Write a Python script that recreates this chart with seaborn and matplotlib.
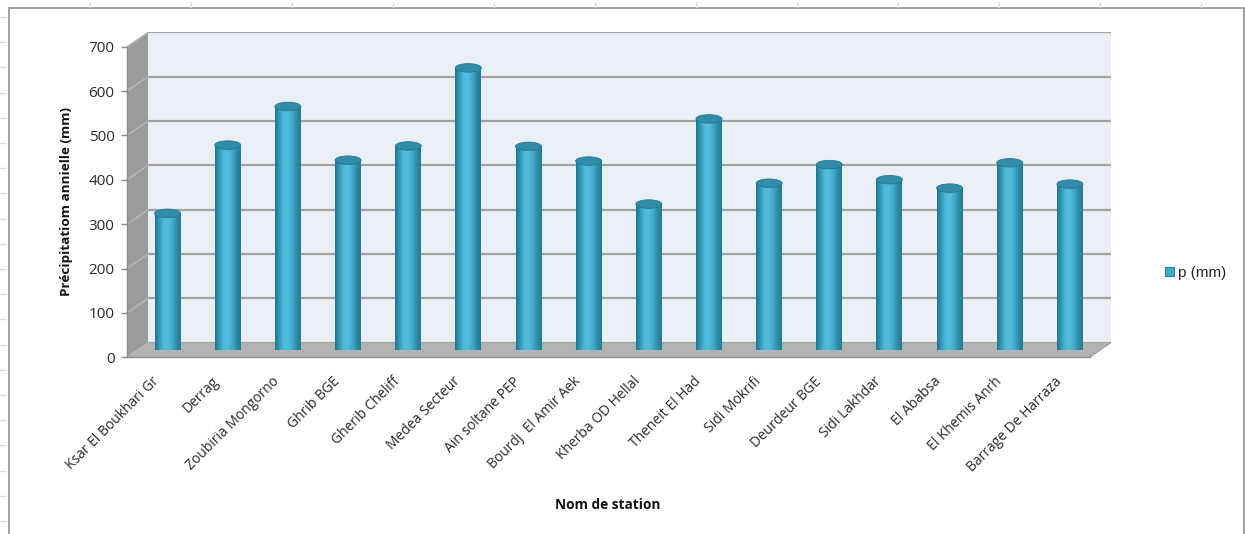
import numpy as np
import pandas as pd
import matplotlib
matplotlib.use("Agg")
import matplotlib.pyplot as plt
from matplotlib.patches import Polygon, Ellipse, Patch
from matplotlib.colors import LinearSegmentedColormap
from matplotlib.lines import Line2D
import seaborn as sns

# Annual precipitation per station (mm)
stations = [
    "Ksar El Boukhari Gr", "Derrag", "Zoubiria Mongorno", "Ghrib BGE",
    "Gherib Cheliff", "Medea Secteur", "Ain soltane PEP", "Bourdj  El Amir Aek",
    "Kherba OD Hellal", "Theneit El Had", "Sidi Mokrifi", "Deurdeur BGE",
    "Sidi Lakhdar", "El Ababsa", "El Khemis Anrh", "Barrage De Harraza",
]
precip = [308, 462, 549, 428, 460, 636, 459, 426, 329, 521, 376, 418, 384, 365, 422, 374]
y_ticks = [0, 100, 200, 300, 400, 500, 600, 700]
series_name = "p (mm)"
y_title = "Précipitatiom annielle (mm)"
x_title = "Nom de station"

df = pd.DataFrame({"station": stations, "p": precip})

sns.set_theme(style="white")
plt.rcParams["font.family"] = ["Open Sans", "DejaVu Sans"]

W, H = 1245, 534
fig = plt.figure(figsize=(W / 100, H / 100), dpi=100)
fig.patch.set_facecolor("white")


def rect(left, top, right, bottom):
    return [left / W, 1 - bottom / H, (right - left) / W, (bottom - top) / H]


# depth offset of the 3D box (pixels): back plane up-right, front plane down-left
DX_PX, DY_PX = 10.5, 7.25
mid_box = (137.5, 39.5, 1100.0, 350.0)
back_box = (mid_box[0] + DX_PX, mid_box[1] - DY_PX, mid_box[2] + DX_PX, mid_box[3] - DY_PX)
front_box = (mid_box[0] - DX_PX, mid_box[1] + DY_PX, mid_box[2] - DX_PX, mid_box[3] + DY_PX)

n = len(stations)
xlim = (-0.5, n - 0.5)
ylim = (0, 700)

# back wall with horizontal gridlines
back = fig.add_axes(rect(*back_box))
back.set_xlim(*xlim)
back.set_ylim(*ylim)
back.set_facecolor("#e9eff5")
back.set_yticks(y_ticks)
back.set_xticks([])
back.grid(axis="y", color="#a3a3a3", linewidth=1.6)
back.tick_params(left=False, labelleft=False, bottom=False, labelbottom=False)
for s in back.spines.values():
    s.set_visible(False)

# middle plane: floor, side wall and the cylinders
mid = fig.add_axes(rect(*mid_box))
mid.set_facecolor("none")
px_per_cat = (mid_box[2] - mid_box[0]) / n
px_per_unit = (mid_box[3] - mid_box[1]) / (ylim[1] - ylim[0])
dx = DX_PX / px_per_cat
dy = DY_PX / px_per_unit

bar_w = 26 / px_per_cat
cap_h = 8.5 / px_per_unit
sns.barplot(data=df, x="station", y="p", ax=mid, color="#3fa9c9", width=bar_w,
            saturation=1, edgecolor="none", zorder=2)
bars = list(mid.containers[0])

floor = Polygon([(xlim[0] - dx, -dy), (xlim[1] - dx, -dy), (xlim[1] + dx, dy), (xlim[0] + dx, dy)],
                closed=True, facecolor="#b2b2b2", edgecolor="none", zorder=0.5, clip_on=False)
mid.add_patch(floor)
mid.add_line(Line2D([xlim[1] - dx, xlim[1] + dx], [-dy, dy], color="#a0a0a0", lw=1, zorder=0.6, clip_on=False))
side = Polygon([(xlim[0] - dx, -dy), (xlim[0] - dx, ylim[1] - dy), (xlim[0] + dx, ylim[1] + dy), (xlim[0] + dx, dy)],
               closed=True, facecolor="#9b9b9b", edgecolor="none", zorder=0.5, clip_on=False)
mid.add_patch(side)
for v in y_ticks:
    mid.add_line(Line2D([xlim[0] - dx, xlim[0] + dx], [v - dy, v + dy], color="#b8b8b8",
                        lw=1.0, zorder=0.7, clip_on=False))

cyl = LinearSegmentedColormap.from_list(
    "cyl", ["#22728a", "#3299b6", "#4fbad8", "#52bddb", "#42aacb", "#2f8ca8", "#267891"])
grad = np.linspace(0, 1, 256)[None, :]
for bar in bars:
    x0 = bar.get_x()
    x1 = x0 + bar.get_width()
    v = bar.get_height()
    xc = x0 + bar.get_width() / 2
    body = mid.imshow(grad, cmap=cyl, extent=[x0, x1, 0, v], aspect="auto",
                      zorder=2.1, interpolation="bicubic")
    body.set_clip_path(bar)
    bottom = Ellipse((xc, 0), bar.get_width(), cap_h, facecolor="#3fa9c9", edgecolor="none", zorder=1.9)
    mid.add_patch(bottom)
    bimg = mid.imshow(grad, cmap=cyl, extent=[x0, x1, -cap_h, cap_h], aspect="auto",
                      zorder=2.0, interpolation="bicubic")
    bimg.set_clip_path(bottom)
    mid.add_patch(Ellipse((xc, v), bar.get_width(), cap_h, facecolor="#308ca8",
                          edgecolor="#26778f", lw=0.6, zorder=3))

mid.set_xlim(*xlim)
mid.set_ylim(*ylim)
mid.set_axis_off()

# front plane: value axis, floor edge and station labels
front = fig.add_axes(rect(*front_box))
front.set_facecolor("none")
front.set_xlim(*xlim)
front.set_ylim(*ylim)
front.set_yticks(y_ticks)
front.set_xticks(range(n))
front.set_xticklabels(stations, rotation=45, ha="right", va="center", rotation_mode="anchor",
                      fontsize=10, color="#2a2a2a")
front.tick_params(axis="x", length=0, pad=16)
front.tick_params(axis="y", length=4, width=1, color="#8c8c8c", pad=5, labelsize=11,
                  labelcolor="#2a2a2a", left=True)
for key in ("top", "right"):
    front.spines[key].set_visible(False)
for key in ("left", "bottom"):
    front.spines[key].set_color("#8c8c8c")
    front.spines[key].set_linewidth(1.0)
front.set_ylabel(y_title, fontsize=9.7, fontweight="bold", color="#111111")
front.yaxis.set_label_coords((73 - front_box[0]) / (front_box[2] - front_box[0]), 0.5)
front.set_xlabel("")

fig.text(608 / W, 1 - 505 / H, x_title, ha="center", va="center",
         fontsize=9.8, fontweight="bold", color="#111111")

handle = Patch(facecolor="#3fa9c9", edgecolor="#2a7f99", linewidth=0.8)
fig.legend([handle], [series_name], loc="center left",
           bbox_to_anchor=(1151 / W, 1 - 273 / H), frameon=False,
           handlelength=0.6, handleheight=0.6, handletextpad=0.25,
           prop={"family": ["Liberation Sans", "DejaVu Sans"], "size": 11})

# chart frame
frame_kw = dict(color="#9a9a9a", lw=1.3, transform=fig.transFigure)
fig.add_artist(Line2D([8.5 / W, 8.5 / W], [0, 1 - 8 / H], **frame_kw))
fig.add_artist(Line2D([8.5 / W, 1244 / W], [1 - 8 / H, 1 - 8 / H], **frame_kw))
fig.add_artist(Line2D([1244 / W, 1244 / W], [0, 1 - 8 / H], **frame_kw))

# sheet gridline stubs outside the frame
stub_kw = dict(color="#dcdcdc", lw=1.0, transform=fig.transFigure)
for py in np.arange(17, H, 25.2):
    fig.add_artist(Line2D([0, 6 / W], [1 - py / H, 1 - py / H], **stub_kw))
for px in np.arange(90, W, 101):
    fig.add_artist(Line2D([px / W, px / W], [1 - 2 / H, 1 - 7 / H], **stub_kw))

fig.savefig("out.png", dpi=100, facecolor="white")
